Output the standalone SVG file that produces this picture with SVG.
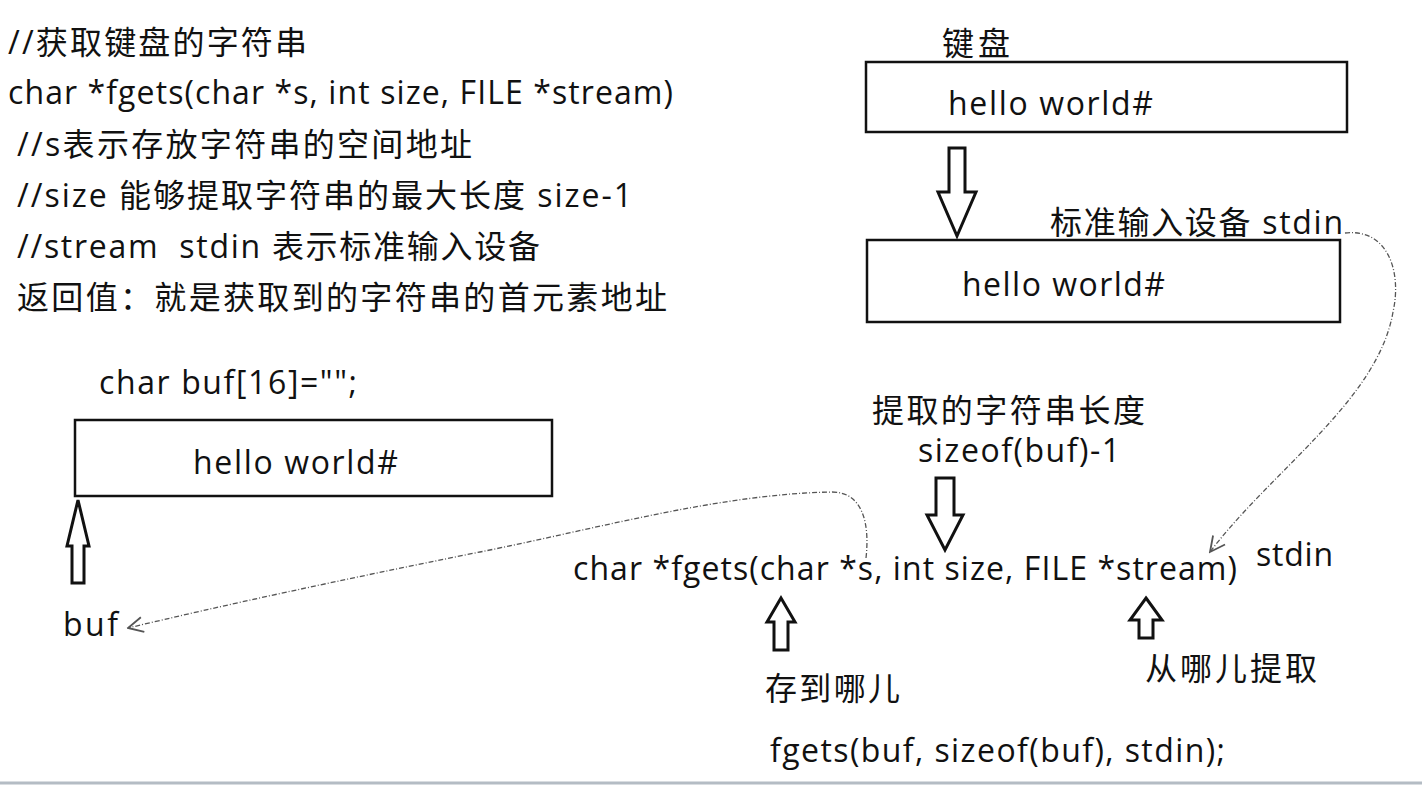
<svg xmlns="http://www.w3.org/2000/svg" width="1422" height="786" viewBox="0 0 1422 786">
<style>
text{font-family:"Open Sans","Noto Sans CJK SC","Noto Sans",sans-serif;font-size:32px;fill:#111;}
.box{fill:#fff;stroke:#111;stroke-width:2.5;}
.harrow{fill:#fff;stroke:#111;stroke-width:3;stroke-linejoin:miter;}
.dash{fill:none;stroke:#555;stroke-width:1.3;stroke-dasharray:5 2 1 2;}
</style>
<defs>
<marker id="open" viewBox="0 0 12 12" refX="11" refY="6" markerWidth="18" markerHeight="18" markerUnits="userSpaceOnUse" orient="auto">
<path d="M1,1 L11,6 L1,11" fill="none" stroke="#555" stroke-width="1.2"/>
</marker>
</defs>
<rect width="1422" height="786" fill="#fff"/>
<g id="notes">
<text x="8" y="54" textLength="299">//获取键盘的字符串</text>
<text x="8" y="104" textLength="665">char *fgets(char *s, int size, FILE *stream)</text>
<text x="17" y="156" textLength="455">//s表示存放字符串的空间地址</text>
<text x="17" y="207" textLength="615">//size 能够提取字符串的最大长度 size-1</text>
<text x="17" y="258" textLength="523" xml:space="preserve">//stream  stdin 表示标准输入设备</text>
<text x="17" y="309" textLength="650">返回值：就是获取到的字符串的首元素地址</text>
</g>
<g id="keyboard">
<text x="942" y="55" textLength="68">键盘</text>
<rect class="box" x="866" y="62" width="481" height="70"/>
<text x="948" y="115" textLength="205">hello world#</text>
</g>
<g id="stdin-buffer">
<text x="1050" y="234" textLength="293">标准输入设备 stdin</text>
<rect class="box" x="867" y="240" width="473" height="82"/>
<text x="962" y="296" textLength="203">hello world#</text>
</g>
<g id="buf-array">
<text x="99" y="394" textLength="258">char buf[16]="";</text>
<rect class="box" x="75" y="420" width="477" height="76"/>
<text x="193" y="474" textLength="205">hello world#</text>
</g>
<g id="size-label">
<text x="872" y="422" textLength="273">提取的字符串长度</text>
<text x="918" y="462" textLength="202">sizeof(buf)-1</text>
</g>
<g id="fgets-proto">
<text x="573" y="580" textLength="664">char *fgets(char *s, int size, FILE *stream)</text>
<text x="1256" y="566" textLength="77">stdin</text>
</g>
<g id="buf-label">
<text x="63" y="636" textLength="55">buf</text>
</g>
<g id="where-store">
<text x="765" y="700" textLength="135">存到哪儿</text>
</g>
<g id="where-from">
<text x="1145" y="680" textLength="172">从哪儿提取</text>
</g>
<g id="call">
<text x="770" y="762" textLength="455">fgets(buf, sizeof(buf), stdin);</text>
</g>
<g id="connectors">
<polygon class="harrow" points="949,148 965,148 965,192 976,192 957,236 938,192 949,192"/>
<polygon class="harrow" points="936,478 954,478 954,515 963,515 945,550 927,515 936,515"/>
<polygon class="harrow" points="781,598 795,622 788,622 788,650 774,650 774,622 767,622"/>
<polygon class="harrow" points="1146,598 1162,620 1153,620 1153,638 1139,638 1139,620 1130,620"/>
<polygon class="harrow" points="78,500 89,546 84,546 84,583 72,583 72,546 67,546"/>
<path class="dash" d="M1345,233 C1388,228 1402,272 1393,312 C1378,400 1272,470 1210,552" marker-end="url(#open)"/>
<path class="dash" d="M866,558 C870,522 862,492 832,492 C720,494 600,528 480,552 C340,580 220,606 128,628" marker-end="url(#open)"/>
</g>
<line x1="0" y1="783" x2="1422" y2="783" stroke="#b4bcc4" stroke-width="3"/>
</svg>
